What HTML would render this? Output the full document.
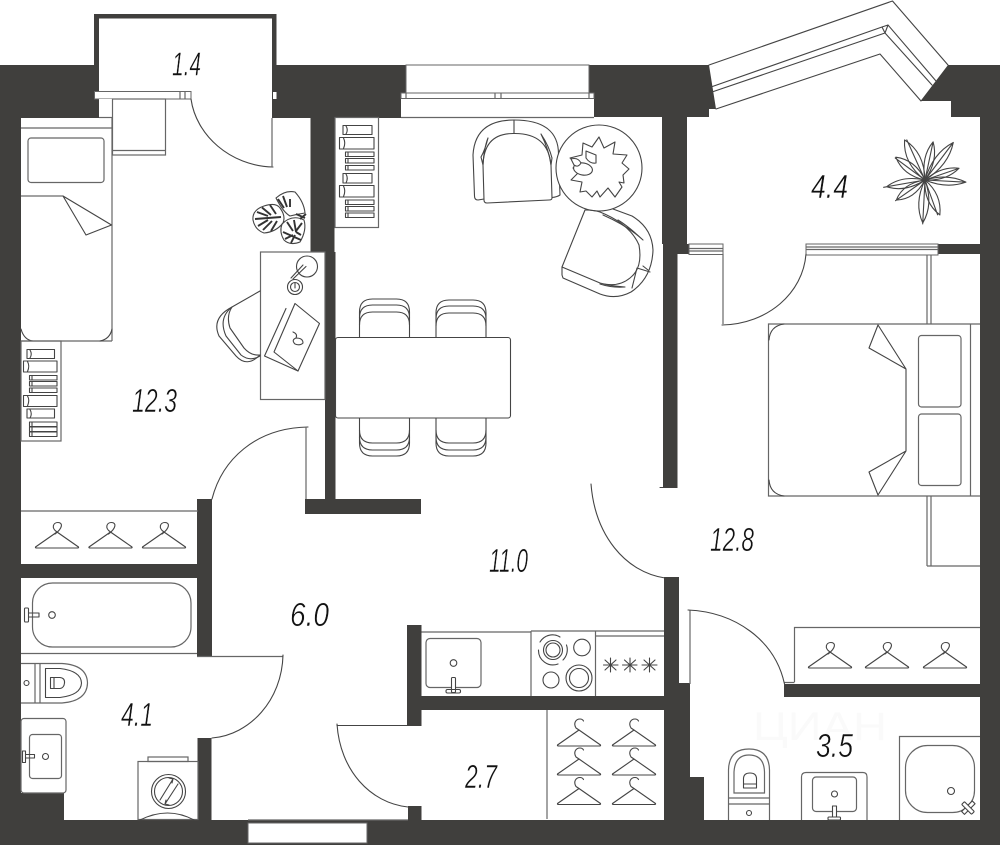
<!DOCTYPE html>
<html><head><meta charset="utf-8"><style>
html,body{margin:0;padding:0;background:#fff}svg{display:block}
.l{fill:none;stroke:#444;stroke-width:1.1;stroke-linejoin:round;stroke-linecap:round}
.g{fill:none;stroke:#666;stroke-width:1.2}
.t{font-family:"Liberation Sans",sans-serif;font-style:italic;font-size:33px;fill:#111;stroke:#fff;stroke-width:.5}
.w{fill:#fff;stroke:#666;stroke-width:1}
</style></head><body>
<svg width="1000" height="845" viewBox="0 0 1000 845" xmlns="http://www.w3.org/2000/svg">
<defs>
<g id="h1" class="l"><path d="M-21.5 0 L0 -15 L21.5 0 Q22 1 20 1 L-20 1 Q-22 1 -21.5 0Z"/><path d="M0 -15 C-6 -19 -4 -24.500 1 -24.500 C6 -24.500 6 -19 -2 -13"/></g>
<g id="h2" class="l"><path d="M-21.500 0 L0 -15 L21.500 0 Q22 1 20 1 L-20 1 Q-22 1 -21.500 0Z"/><path d="M0 -15 L-3 -17 C-6 -22 -3 -26 1 -26 C3 -26 4 -25 4.500 -24"/></g>
<g id="ch" class="l"><path d="M0 38 V13 Q0 0 13 0 H37 Q50 0 50 13 V38"/><path d="M0 19 Q0 6 13 6 H37 Q50 6 50 19"/><path d="M0 26 Q0 13 13 13 H37 Q50 13 50 26"/></g>
</defs>
<rect width="1000" height="845" fill="#fff"/>
<!-- Walls -->
<g fill="#403f3d">
<rect x="0" y="65" width="21" height="780"/>
<rect x="0" y="65" width="94" height="53"/>
<rect x="94" y="14" width="5" height="85"/>
<rect x="21" y="99" width="78" height="19"/>
<rect x="94" y="14" width="182" height="4.500"/>
<rect x="272" y="14" width="4.500" height="104"/>
<rect x="272" y="65" width="134" height="53"/>
<rect x="589" y="65" width="120" height="52"/>
<polygon points="709,65 716,109 708,109 708,117 680,117 680,65"/>
<polygon points="948,65 920.500,101 951,101 951,117 980,117 980,65"/>
<rect x="980" y="65" width="20" height="780"/>
<rect x="0" y="820" width="1000" height="25"/>
<rect x="310.500" y="117" width="24" height="135"/>
<rect x="325" y="252" width="10.500" height="248"/>
<rect x="305" y="499" width="116" height="15"/>
<rect x="662" y="117" width="25" height="127"/>
<rect x="663" y="244" width="26" height="10"/>
<rect x="663" y="254" width="14.500" height="234"/>
<rect x="664" y="577" width="15" height="107"/>
<rect x="664" y="683" width="26" height="137"/>
<rect x="688" y="777" width="16" height="43"/>
<rect x="784" y="684" width="200" height="13"/>
<rect x="938" y="244" width="42" height="10"/>
<rect x="21" y="564" width="191" height="14"/>
<rect x="197" y="499" width="15" height="158"/>
<rect x="197.500" y="738" width="14" height="82"/>
<rect x="21" y="793" width="43" height="27"/>
<rect x="407" y="625" width="14.500" height="101"/>
<rect x="421" y="696" width="244" height="14"/>
<rect x="408" y="806" width="13.500" height="14"/>
</g>
<!-- windows -->
<rect x="248" y="823" width="119" height="20" class="w"/>
<rect x="94.500" y="91.500" width="96.500" height="7.500" class="w"/>
<path d="M180 91.500V99M185 91.500V99" class="g"/>
<rect x="273" y="92" width="3.500" height="7" fill="#fff"/>
<rect x="99" y="99" width="13" height="18.500" fill="#fff"/>
<path d="M99 117.500H112" class="g"/>
<rect x="406" y="65" width="183" height="28" class="w"/>
<rect x="401" y="98" width="193" height="19.500" fill="#fff"/>
<rect x="401" y="93" width="193" height="5.500" class="w"/>
<path d="M406 93V98M589 93V98M495 93V98M501 93V98" class="g"/>
<path d="M401 117.500H594" class="g"/>
<rect x="689" y="244" width="34" height="10.500" class="w"/>
<path d="M689 248.500H723M689 251H723" class="g"/>
<rect x="806" y="244" width="132" height="11" class="w"/>
<path d="M806 249.500H938M806 247H938" class="g"/>
<!-- loggia window -->
<path d="M709 65 L892.500 1 L948 65" class="l"/>
<path d="M716 109 L880 54 L921 101" class="l"/>
<path d="M711 87 L882 27 L888 25 L936 81 M712 92 L885 33 L932 85 M882 27 L885 33 M888 25 L885 33" class="l"/>
<!-- Bedroom left -->
<rect x="112.500" y="99" width="53" height="56" class="g"/>
<path d="M112.500 150.500H165.500" class="g"/>
<path d="M191 99 C196 135 230 166 273 167" class="l"/>
<path d="M272 118V167" class="g"/>
<path d="M21 128H112 M112 118V341 M21 341H112" class="g"/>
<path d="M21 329 Q24 340 33 341 M100 341 Q110 339 112 329" class="l"/>
<rect x="28" y="138" width="76" height="44.500" rx="3" class="g"/>
<path d="M21 196H63 L111.500 225 L86 235 L63 196" class="l"/>
<!-- monstera -->
<g class="l">
<path d="M253 220 Q252 210 264 206 Q276 202 280 208 Q286 216 283 223 Q276 232 264 233 Q255 230 253 220Z"/>
<path d="M276 198 Q285 190 295 192 Q304 202 305 213 Q298 214 290 216 Q283 212 276 198Z"/>
<path d="M282 224 Q292 214 304 220 Q307 230 300 242 Q290 246 284 240 Q279 232 282 224Z"/>
</g>
<g stroke="#333" stroke-width="1.900" fill="none">
<path d="M255 219 L281 217 M257 212 L268 216 M262 207.500 L271 215 M270 205 L276 214 M258 226 L268 220 M263 230 L272 221 M271 231 L277 221"/>
<path d="M283 232 L301 240 M287 222 L293 231 M294 220 L296 232 M302 223 L296 231 M285 239 L293 235 M291 243 L295 235 M301 235 L296 232"/>
<path d="M296 214 L305 218 M300 219 L306 214 M278 199 L284 208 M283 196 L287 207 M290 199 L290 207"/>
</g>
<!-- desk -->
<rect x="260.500" y="252" width="64.500" height="147.500" class="g" style="fill:#fff"/>
<circle cx="307" cy="266.500" r="10.500" class="l"/>
<path d="M306 266.500 L293 279 M303 265 L291 278" class="l"/>
<circle cx="295" cy="287" r="7.500" class="l"/>
<circle cx="295" cy="287" r="4.500" class="l"/>
<path d="M295 283 V288" class="l"/>
<path d="M295 303.500 L319.500 323.500 L298 371 L274 352 Z" class="l"/>
<path d="M286 308.500 L264.500 356 L298 371" class="l"/>
<path d="M293 332 Q298 334 296 338 Q303 338 303 343 Q300 346 295 344 Q291 340 296 338" class="l"/>
<!-- desk chair -->
<path d="M260 291 L232 307 Q211 318 219 336 L236 356 Q247 368 260 355" class="l"/>
<path d="M232 307 Q218 318 226 336 L241 355 Q250 362 260 356" class="l"/>
<path d="M232 307 Q226 316 230 328 L244 348 Q251 356 260 355" class="l"/>
<!-- bookshelf left -->
<rect x="21" y="341" width="40" height="100" class="g"/>
<g class="l">
<rect x="27" y="349.500" width="27.500" height="9"/><path d="M30 350 Q32.500 354 30 358"/>
<rect x="23.500" y="361" width="33.500" height="11"/><path d="M27.500 361.500 Q30 366 27.500 371.500"/>
<rect x="29.500" y="375.500" width="27.500" height="4.500"/><path d="M32 375.500V380"/>
<rect x="29.500" y="381.500" width="27.500" height="4.500"/><path d="M32 381.500V386"/>
<rect x="29.500" y="388" width="27.500" height="4.500"/><path d="M32 388V392.500"/>
<rect x="23.500" y="395.500" width="33.500" height="11"/><path d="M27.500 396 Q30 400 27.500 406"/>
<rect x="27" y="409" width="27.500" height="9"/><path d="M30 409.500 Q32.500 414 30 418"/>
<rect x="29.500" y="422" width="27.500" height="4.500"/><path d="M32 422V426.500"/>
<rect x="29.500" y="427" width="27.500" height="4.500"/><path d="M32 427V431.500"/>
<rect x="29.500" y="432" width="27.500" height="4.500"/><path d="M32 432V436.500"/>
</g>
<!-- door + closet -->
<path d="M308 427 C255 428 222 460 212 499" class="l"/>
<path d="M306 427V499" class="g"/>
<path d="M21 511H198" class="g"/>
<use href="#h1" x="57" y="547"/><use href="#h1" x="110.500" y="547"/><use href="#h1" x="164" y="547"/>
<!-- Bath left -->
<path d="M21 653.500H197 M197 656.500H283" class="g"/>
<rect x="32.500" y="583" width="158.500" height="64" rx="20" class="g"/>
<circle cx="52" cy="615" r="3.300" class="l"/>
<rect x="24.500" y="608" width="4" height="14" rx="1" class="l"/>
<path d="M28.500 613 H39 V617 H28.500" class="l"/>
<path d="M283 655 C282 700 250 735 212 738" class="l"/>
<path d="M21 663.500H62 Q87 665 87.500 683 Q87 701 62 703H21" class="g"/>
<path d="M35 663.500V703 M40 663.500V703" class="g"/>
<path d="M45.500 668.500H60 Q81 671 81.500 683 Q81 695 60 697.500H45.500Z" class="l"/>
<path d="M50.500 677.500H60 Q65 678 64.500 683 Q64 688 60 688.500H50.500Z M54 677.500V688.500" class="l"/>
<circle cx="26.500" cy="683" r="2.500" class="l"/>
<rect x="21" y="718.500" width="45" height="74.500" rx="3" class="g" style="fill:#fff"/>
<rect x="29.500" y="734.500" width="32" height="44" rx="3" class="g"/>
<circle cx="45.500" cy="756.500" r="3" class="l"/>
<rect x="22.500" y="751" width="3" height="11.500" class="l"/>
<path d="M25.500 754.500H34.500V758H25.500" class="l"/>
<rect x="138" y="761.500" width="60" height="58" class="g"/>
<rect x="148" y="757" width="40" height="4.500" class="g"/>
<circle cx="168.500" cy="791.500" r="17" class="l"/>
<circle cx="168.500" cy="791.500" r="14" class="l"/>
<path d="M160 800 L173 779 M165 804 L178 784 M173 779 L169 778 M173 779 L172 783 M165 804 L169 805 M165 804 L166 800" class="l"/>
<path d="M140 820 Q168 806 194 820" class="l"/>
<!-- Kitchen -->
<path d="M421.500 632H531 M664 631H595 M595 636H664" class="g"/>
<path d="M531 631V696 M595.500 631V696 M531 631H595" class="g"/>
<rect x="426" y="638.500" width="55" height="49" rx="4" class="g"/>
<circle cx="453.500" cy="663" r="3.300" class="l"/>
<rect x="451.500" y="677.500" width="4" height="15" rx="1" class="l" style="fill:#fff"/>
<rect x="446" y="689.500" width="14.500" height="3.500" rx="1.500" class="l"/>
<g class="l">
<circle cx="553" cy="650" r="9.500"/><circle cx="553" cy="650" r="7"/>
<path d="M560 637 A14.500 14.500 0 0 0 540 642 M538.500 650 A14.500 14.500 0 0 0 558 664 M563 660 A14.500 14.500 0 0 0 566.500 645"/>
<circle cx="582" cy="647.500" r="8.300"/><circle cx="551" cy="680" r="8"/>
<circle cx="579" cy="678" r="13"/><circle cx="579" cy="678" r="9.500"/>
<path d="M610.500 658V672 M603.500 665H618 M605 660L616 670 M616 660L605 670"/>
<path d="M630 658V672 M622.500 665H637 M624.500 660L635.500 670 M635.500 660L624.500 670"/>
<path d="M649.500 658V672 M642 665H657 M644 660L655 670 M655 660L644 670"/>
</g>
<!-- Storage -->
<path d="M547 710V819" class="g"/>
<use href="#h2" x="579" y="745"/><use href="#h2" x="634" y="745"/>
<use href="#h2" x="579" y="774"/><use href="#h2" x="634" y="774"/>
<use href="#h2" x="579" y="803.500"/><use href="#h2" x="634" y="803.500"/>
<path d="M337 725.500H407" class="l"/>
<path d="M337 724 C340 770 370 803 408 807" class="l"/>
<path d="M248 820H408" class="g"/>
<!-- Living: bookshelf -->
<rect x="335" y="117.500" width="43.500" height="110" class="g" style="fill:#fff"/>
<g class="l">
<rect x="343" y="125.500" width="29" height="9"/><path d="M346 126 Q348.500 130 346 134"/>
<rect x="339.500" y="137.500" width="34.500" height="11.500"/><path d="M343.500 138 Q346 143 343.500 148.500"/>
<rect x="345.500" y="152" width="28.500" height="4.500"/><path d="M348 152V156.500"/>
<rect x="345.500" y="158.500" width="28.500" height="4.500"/><path d="M348 158.500V163"/>
<rect x="345.500" y="165.500" width="28.500" height="4.500"/><path d="M348 165.500V170"/>
<rect x="343" y="173.500" width="29" height="9.500"/><path d="M346 174 Q348.500 178 346 183"/>
<rect x="339.500" y="185.500" width="34.500" height="11.500"/><path d="M343.500 186 Q346 191 343.500 196.500"/>
<rect x="345.500" y="200" width="28.500" height="4.500"/><path d="M348 200V204.500"/>
<rect x="345.500" y="206.500" width="28.500" height="4.500"/><path d="M348 206.500V211"/>
<rect x="345.500" y="213" width="28.500" height="4.500"/><path d="M348 213V217.500"/>
</g>
<!-- Armchair 1 -->
<g class="l">
<path d="M474.500 196 L473 155 Q475 120 514 120 Q559 120 558.500 155 L560 195 Q557 197 552 197.500 M484 199 L478 200 Q474.500 200 474.500 196"/>
<path d="M514 120 V133.500"/>
<path d="M483 165 Q484 133 514 133.500 Q548 133 551 165 L552 198 Q552 200 549 200 L487 203 Q484 203 484 200 Z"/>
<path d="M483 165 Q484 148 488 138 Q485 150 481 157 Z M551 165 Q549 150 541 134 Q549 146 552 158 Z"/>
</g>
<!-- round table + plant -->
<circle cx="599" cy="168" r="43" class="l" style="fill:#fff"/>
<polygon class="l" points="599,137 604,148 615,142 613,154 627,155 622,163 629,169 623,175 624,183 619,182 622,187 615,197 608,188 600,197 597,191 592,197 586,191 580,192 582,182 571,180 578,173 573,168 580,163 570,158 582,155 583,143 592,147"/>
<g class="l">
<ellipse cx="583" cy="169" rx="9.500" ry="6" transform="rotate(10 583 169)" style="fill:#fff"/>
<path d="M586 151 L596 155 L596 163 Q590 164 586 158 Z" style="fill:#fff"/>
<path d="M571 159 Q578 157 581 163 Q578 168 574 165 Z" style="fill:#fff"/>
</g>
<!-- Armchair 2 -->
<g class="l">
<path d="M585 210 L562 267 L562 275 L563 278 L600 294 Q616 300 631 292 Q652 278 653 250 Q652 228 632 216 L613 209"/>
<path d="M585 210 Q594 210 600 212 Q630 224 639 245 Q643 268 630 278 Q618 288 600 283 L562 267"/>
<path d="M632 288 L637 268 L650 272 M643 266 L648 270"/>
<path d="M603 215 Q628 226 643 240 Q628 226 618 220 M600 284 Q612 288 625 287 Q612 286 604 284"/>
</g>
<!-- Dining -->
<use href="#ch" x="359.500" y="299"/>
<use href="#ch" x="436" y="300"/>
<use href="#ch" transform="translate(359.500 456) scale(1 -1)"/>
<use href="#ch" transform="translate(436 456) scale(1 -1)"/>
<rect x="335.500" y="337.500" width="175" height="80.500" rx="2.500" class="l" style="fill:#fff"/>
<!-- Loggia plant -->
<g class="l" transform="translate(925 180)">
<g transform="rotate(-27)"><path d="M0 0 Q12 -25 0 -45 Q-12 -25 0 0 M0 0 L2 -44"/></g>
<g transform="rotate(12)"><path d="M0 0 Q9 -22 0 -39 Q-9 -22 0 0 M0 0 V-38"/></g>
<g transform="rotate(37)"><path d="M0 0 Q10 -26 0 -47 Q-10 -26 0 0 M0 0 V-46"/></g>
<g transform="rotate(71)"><path d="M0 0 Q8 -20 0 -36 Q-8 -20 0 0 M0 0 V-35"/></g>
<g transform="rotate(93)"><path d="M0 0 Q8 -22 0 -41 Q-8 -22 0 0 M0 0 V-41"/></g>
<g transform="rotate(157)"><path d="M0 0 Q10 -20 0 -38 Q-10 -20 0 0 M0 0 L2 -37"/></g>
<g transform="rotate(183)"><path d="M0 0 Q10 -24 0 -43 Q-10 -24 0 0 M0 0 V-44"/></g>
<g transform="rotate(235)"><path d="M0 0 Q10 -20 0 -35 Q-10 -20 0 0 M0 0 V-36"/></g>
<g transform="rotate(260)"><path d="M0 0 Q9 -22 0 -39 Q-9 -22 0 0 M0 0 V-42"/></g>
<g transform="rotate(308)"><path d="M0 0 Q10 -20 0 -37 Q-10 -20 0 0 M0 0 L-1 -37"/></g>
</g>
<!-- Bedroom right -->
<path d="M723 254V324" class="g"/>
<path d="M722 325 C768 324 803 293 806 254" class="l"/>
<path d="M927 255V324 M931 255V324 M927 496V566 M931 496V566 M927 566H980" class="g"/>
<path d="M980 324H768.500V496H980" class="g"/>
<path d="M784 324 Q770 326 769 340 M769 480 Q770 494 784 496" class="l"/>
<path d="M970.500 324V496" class="g"/>
<rect x="918.500" y="335.500" width="42.500" height="71.500" rx="3" class="g"/>
<rect x="918.500" y="414" width="42.500" height="71.500" rx="3" class="g"/>
<path d="M878 325 L906 369 V451 L878 495 L869 472 L906 451 M906 369 L869 348 L878 325" class="l"/>
<path d="M794.500 682V627.500H980 M794.500 682.500H784" class="g"/>
<use href="#h1" x="830" y="667"/><use href="#h1" x="887" y="667"/><use href="#h1" x="945" y="667"/>
<!-- Living door -->
<path d="M591 484 C595 535 625 572 665 578" class="l"/>
<path d="M660 487.500H663" class="l"/>
<!-- Bath door right -->
<path d="M690 610V684" class="g"/>
<path d="M688 610 C735 612 775 640 784.500 684" class="l"/>
<!-- watermark -->
<text x="753" y="740" font-family="'Liberation Sans',sans-serif" font-size="40" fill="#fafafa" textLength="134" lengthAdjust="spacingAndGlyphs">ЦИАН</text>
<!-- Bath right -->
<g class="g">
<path d="M728.500 820V770 Q729 749 749 749 Q769 749 769.500 770V820"/>
<path d="M728.500 798H769.500 M728.500 804H769.500"/>
<path d="M734 793V772 Q735 755 749 755 Q764 755 764.500 772V793Z"/>
</g>
<g class="l">
<path d="M743.500 788V778 Q744 773 750 773 Q756 773 756.500 778V788Z M743.500 784H756.500"/>
<circle cx="749" cy="813" r="2.500"/>
</g>
<path d="M801.500 820V777 Q801.500 772.500 806 772.500H863 Q867 772.500 867 777V820" class="g"/>
<rect x="812.500" y="777" width="44" height="34.500" rx="3.500" class="g"/>
<circle cx="834.500" cy="794" r="3" class="l"/>
<rect x="832.500" y="806" width="4" height="13" class="l" style="fill:#fff"/>
<rect x="828" y="817" width="12.500" height="3" rx="1" class="l" style="fill:#fff"/>
<path d="M899.500 820V736.500H980" class="g"/>
<rect x="905.500" y="745.500" width="69" height="67" rx="22" class="g"/>
<circle cx="951" cy="791" r="3.500" class="l"/>
<g transform="rotate(45 968 808)"><rect x="966" y="800" width="4" height="15" class="l" style="fill:#fff"/><rect x="961" y="806" width="14" height="4" rx="1" class="l" style="fill:#fff"/></g>
<!-- Labels -->
<text class="t" x="172" y="75.500" textLength="29" lengthAdjust="spacingAndGlyphs">1.4</text>
<text class="t" x="132" y="412" textLength="45" lengthAdjust="spacingAndGlyphs">12.3</text>
<text class="t" x="489" y="572" textLength="39" lengthAdjust="spacingAndGlyphs">11.0</text>
<text class="t" x="290" y="626" textLength="39" lengthAdjust="spacingAndGlyphs">6.0</text>
<text class="t" x="811" y="198" textLength="37" lengthAdjust="spacingAndGlyphs">4.4</text>
<text class="t" x="710" y="551" textLength="44" lengthAdjust="spacingAndGlyphs">12.8</text>
<text class="t" x="121" y="726" textLength="32" lengthAdjust="spacingAndGlyphs">4.1</text>
<text class="t" x="465" y="788" textLength="32" lengthAdjust="spacingAndGlyphs">2.7</text>
<text class="t" x="816" y="757" textLength="37" lengthAdjust="spacingAndGlyphs">3.5</text>
</svg>
</body></html>
